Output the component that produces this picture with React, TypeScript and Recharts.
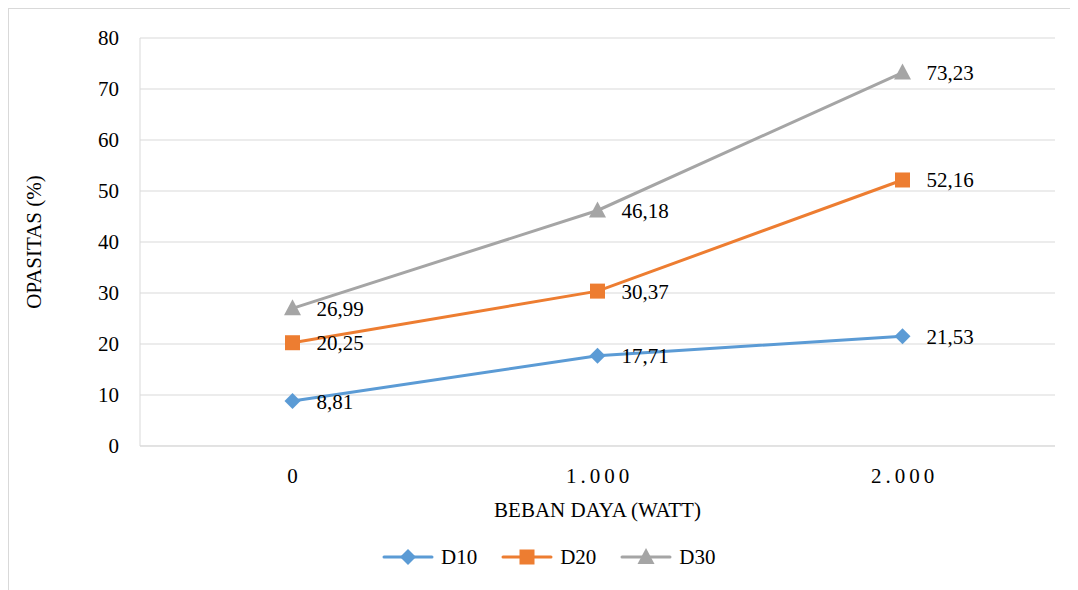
import React from "react";
import {
  CartesianGrid,
  Label,
  LabelList,
  Legend,
  Line,
  LineChart,
  XAxis,
  YAxis,
} from "recharts";

const CATEGORIES = ["0", "1.000", "2.000"];
const D10 = [8.81, 17.71, 21.53];
const D20 = [20.25, 30.37, 52.16];
const D30 = [26.99, 46.18, 73.23];
const Y_TICKS = [0, 10, 20, 30, 40, 50, 60, 70, 80];

const FONT = "Liberation Serif, DejaVu Serif, serif";
const GRID = "#D9D9D9";

type Kind = "diamond" | "square" | "triangle";

const SERIES: { key: string; color: string; marker: Kind }[] = [
  { key: "D10", color: "#5B9BD5", marker: "diamond" },
  { key: "D20", color: "#ED7D31", marker: "square" },
  { key: "D30", color: "#A5A5A5", marker: "triangle" },
];

const data = CATEGORIES.map((name, i) => ({
  name,
  D10: D10[i],
  D20: D20[i],
  D30: D30[i],
}));

const fmt = (v: any) => String(v).replace(".", ",");

function Marker({ kind, cx, cy, color }: { kind: Kind; cx: number; cy: number; color: string }) {
  if (kind === "diamond") {
    const r = 8;
    return (
      <polygon
        points={`${cx},${cy - r} ${cx + r},${cy} ${cx},${cy + r} ${cx - r},${cy}`}
        fill={color}
      />
    );
  }
  if (kind === "square") {
    const s = 15;
    return <rect x={cx - s / 2} y={cy - s / 2} width={s} height={s} fill={color} />;
  }
  const h = 16;
  return (
    <polygon
      points={`${cx},${cy - h / 2 - 1} ${cx + 8.5},${cy + h / 2 - 1} ${cx - 8.5},${cy + h / 2 - 1}`}
      fill={color}
    />
  );
}

function renderLegend() {
  return (
    <div style={{ display: "flex", alignItems: "center", fontFamily: FONT, fontSize: 21, color: "#000" }}>
      {SERIES.map((s) => (
        <div key={s.key} style={{ display: "flex", alignItems: "center", marginRight: 24 }}>
          <svg width={52} height={22}>
            <line x1={2} x2={50} y1={11} y2={11} stroke={s.color} strokeWidth={3} strokeLinecap="round" />
            <Marker kind={s.marker} cx={26} cy={11} color={s.color} />
          </svg>
          <span style={{ marginLeft: 7, lineHeight: "22px" }}>{s.key}</span>
        </div>
      ))}
    </div>
  );
}

export default function App() {
  return (
    <div style={{ position: "relative", width: 1070, height: 582, fontFamily: FONT }}>
      <style>{"html,body{overflow:hidden}"}</style>
      <div
        style={{
          position: "absolute",
          inset: 0,
          borderLeft: `1px solid ${GRID}`,
          borderTop: `1px solid ${GRID}`,
          width: 1100,
          pointerEvents: "none",
        }}
      />
      <div style={{ position: "absolute", left: 0, top: 0 }}>
        <LineChart
          width={1070}
          height={582}
          data={data}
          margin={{ top: 30, right: 23, left: 0, bottom: 0 }}
        >
          <CartesianGrid horizontal vertical={false} stroke={GRID} strokeWidth={1} />
          <XAxis
            dataKey="name"
            height={144}
            padding={{ left: 152.5, right: 152.5 }}
            axisLine={{ stroke: GRID, strokeWidth: 1 }}
            tickLine={false}
            tickSize={0}
            tickMargin={22}
            tick={{ fontFamily: FONT, fontSize: 21, fill: "#000", letterSpacing: 4, dx: 2 }}
          >
            <Label
              content={(p: any) => {
                const vb = p.viewBox;
                return (
                  <text
                    x={vb.x + vb.width / 2}
                    y={vb.y + 64}
                    textAnchor="middle"
                    dominantBaseline="central"
                    fontFamily={FONT}
                    fontSize={21}
                    fill="#000"
                  >
                    BEBAN DAYA (WATT)
                  </text>
                );
              }}
            />
          </XAxis>
          <YAxis
            width={132}
            domain={[0, 80]}
            ticks={Y_TICKS}
            interval={0}
            axisLine={{ stroke: GRID, strokeWidth: 1 }}
            tickLine={false}
            tickSize={0}
            tickMargin={21}
            tick={{ fontFamily: FONT, fontSize: 21, fill: "#000" }}
          >
            <Label
              content={(p: any) => {
                const vb = p.viewBox;
                const cx = vb.x + 26;
                const cy = vb.y + vb.height / 2;
                return (
                  <text
                    x={cx}
                    y={cy}
                    transform={`rotate(-90, ${cx}, ${cy})`}
                    textAnchor="middle"
                    dominantBaseline="central"
                    fontFamily={FONT}
                    fontSize={21}
                    fill="#000"
                  >
                    OPASITAS (%)
                  </text>
                );
              }}
            />
          </YAxis>
          <Legend
            layout="horizontal"
            verticalAlign="middle"
            align="center"
            content={renderLegend}
            wrapperStyle={{ top: 538, left: 374, width: "auto" }}
          />
          {SERIES.map((s) => (
            <Line
              key={s.key}
              dataKey={s.key}
              stroke={s.color}
              strokeWidth={3}
              isAnimationActive={false}
              dot={(p: any) => (
                <Marker key={`${s.key}-${p.index}`} kind={s.marker} cx={p.cx} cy={p.cy} color={s.color} />
              )}
              activeDot={false}
            >
              <LabelList
                dataKey={s.key}
                position="right"
                offset={24}
                formatter={fmt}
                fill="#000"
                fontFamily={FONT}
                fontSize={21}
              />
            </Line>
          ))}
        </LineChart>
      </div>
    </div>
  );
}
